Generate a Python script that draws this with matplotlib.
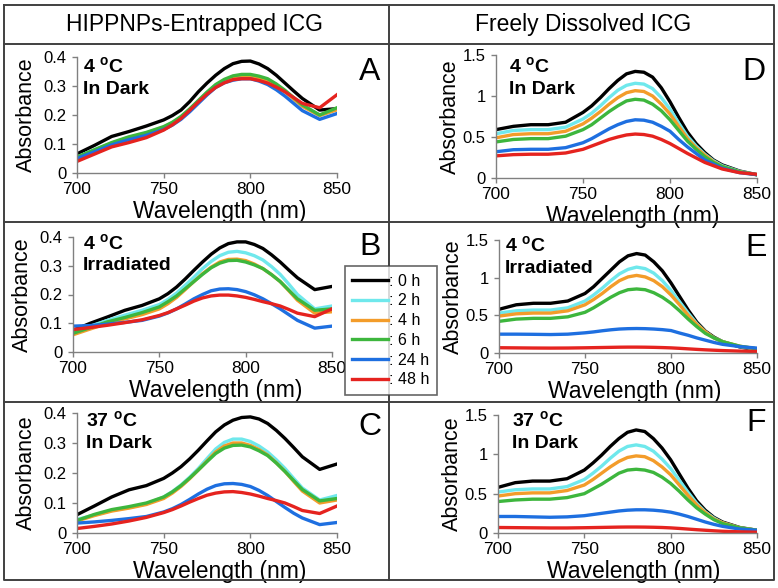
import matplotlib
matplotlib.use("Agg")
import matplotlib.pyplot as plt
from matplotlib.lines import Line2D
from matplotlib.ticker import FormatStrFormatter

plt.rcParams["font.family"] = ["Liberation Sans", "DejaVu Sans"]
plt.rcParams["mathtext.fontset"] = "custom"
plt.rcParams["mathtext.rm"] = "Liberation Sans"
plt.rcParams["mathtext.bf"] = "Liberation Sans:bold"

# wavelengths (nm)
wavelength = [700, 710, 720, 730, 740, 750, 755, 760, 765, 770, 775, 780, 785,
              790, 795, 800, 805, 810, 815, 820, 825, 830, 840, 850]
times = [": 0 h", ": 2 h", ": 4 h", ": 6 h", ": 24 h", ": 48 h"]
colors = ["#000000", "#6FE8EC", "#F39C2A", "#3DB63D", "#1E6FE0", "#E5231F"]

# HIPPNPs-entrapped ICG, 4 oC in dark (0, 2, 4, 6, 24, 48 h)
abs_a = [
    [0.066, 0.095, 0.126, 0.143, 0.162, 0.183, 0.198, 0.217, 0.246, 0.28, 0.31, 0.337, 0.36, 0.377, 0.385, 0.386, 0.376, 0.36, 0.337, 0.31, 0.283, 0.257, 0.217, 0.222],
    [0.055, 0.08, 0.103, 0.122, 0.138, 0.158, 0.173, 0.193, 0.219, 0.248, 0.277, 0.302, 0.32, 0.332, 0.337, 0.337, 0.331, 0.32, 0.303, 0.282, 0.257, 0.232, 0.2, 0.22],
    [0.053, 0.078, 0.1, 0.12, 0.136, 0.156, 0.171, 0.19, 0.216, 0.245, 0.274, 0.3, 0.318, 0.33, 0.334, 0.334, 0.328, 0.318, 0.301, 0.28, 0.255, 0.23, 0.198, 0.218],
    [0.055, 0.08, 0.105, 0.125, 0.14, 0.16, 0.175, 0.195, 0.221, 0.25, 0.279, 0.305, 0.323, 0.335, 0.34, 0.34, 0.334, 0.325, 0.307, 0.285, 0.26, 0.235, 0.2, 0.225],
    [0.05, 0.073, 0.097, 0.115, 0.13, 0.15, 0.165, 0.185, 0.211, 0.24, 0.269, 0.295, 0.311, 0.32, 0.325, 0.325, 0.317, 0.305, 0.287, 0.265, 0.24, 0.215, 0.185, 0.205],
    [0.04, 0.065, 0.09, 0.105, 0.122, 0.148, 0.166, 0.188, 0.216, 0.245, 0.272, 0.295, 0.311, 0.322, 0.325, 0.325, 0.319, 0.31, 0.296, 0.28, 0.26, 0.24, 0.225, 0.27],
]
# HIPPNPs-entrapped ICG, 4 oC irradiated
abs_b = [
    [0.075, 0.1, 0.122, 0.145, 0.162, 0.185, 0.203, 0.226, 0.254, 0.284, 0.313, 0.34, 0.362, 0.377, 0.383, 0.383, 0.374, 0.36, 0.338, 0.313, 0.285, 0.258, 0.217, 0.228],
    [0.07, 0.09, 0.11, 0.128, 0.145, 0.165, 0.183, 0.205, 0.232, 0.26, 0.29, 0.315, 0.335, 0.347, 0.35, 0.345, 0.335, 0.32, 0.297, 0.27, 0.236, 0.2, 0.15, 0.16],
    [0.06, 0.08, 0.1, 0.115, 0.13, 0.15, 0.168, 0.19, 0.217, 0.245, 0.272, 0.295, 0.313, 0.322, 0.323, 0.318, 0.306, 0.29, 0.269, 0.245, 0.213, 0.18, 0.135, 0.14],
    [0.065, 0.085, 0.105, 0.12, 0.137, 0.157, 0.175, 0.195, 0.22, 0.245, 0.27, 0.293, 0.309, 0.318, 0.319, 0.313, 0.303, 0.29, 0.269, 0.245, 0.215, 0.185, 0.145, 0.15],
    [0.09, 0.092, 0.097, 0.103, 0.11, 0.125, 0.136, 0.15, 0.167, 0.185, 0.2, 0.213, 0.219, 0.22, 0.217, 0.21, 0.199, 0.185, 0.168, 0.15, 0.13, 0.11, 0.083, 0.09],
    [0.078, 0.085, 0.093, 0.102, 0.112, 0.127, 0.137, 0.15, 0.163, 0.177, 0.188, 0.195, 0.198, 0.198, 0.195, 0.19, 0.183, 0.175, 0.168, 0.16, 0.148, 0.135, 0.123, 0.15],
]
# HIPPNPs-entrapped ICG, 37 oC in dark
abs_c = [
    [0.061, 0.09, 0.12, 0.144, 0.158, 0.182, 0.2, 0.221, 0.247, 0.276, 0.307, 0.337, 0.36, 0.376, 0.385, 0.387, 0.38, 0.365, 0.342, 0.315, 0.285, 0.254, 0.212, 0.23],
    [0.045, 0.06, 0.075, 0.085, 0.097, 0.12, 0.138, 0.16, 0.186, 0.215, 0.248, 0.28, 0.302, 0.313, 0.313, 0.305, 0.29, 0.27, 0.244, 0.215, 0.182, 0.15, 0.11, 0.125],
    [0.04, 0.058, 0.073, 0.083, 0.095, 0.115, 0.133, 0.155, 0.181, 0.21, 0.24, 0.27, 0.29, 0.3, 0.3, 0.292, 0.278, 0.26, 0.234, 0.205, 0.172, 0.14, 0.1, 0.11],
    [0.042, 0.062, 0.078, 0.088, 0.1, 0.12, 0.137, 0.158, 0.183, 0.21, 0.238, 0.265, 0.283, 0.292, 0.293, 0.287, 0.274, 0.258, 0.233, 0.205, 0.175, 0.145, 0.107, 0.115],
    [0.033, 0.037, 0.042, 0.048, 0.055, 0.07, 0.081, 0.095, 0.112, 0.13, 0.146, 0.158, 0.164, 0.165, 0.162, 0.155, 0.142, 0.125, 0.105, 0.085, 0.066, 0.05, 0.028, 0.035],
    [0.015, 0.022, 0.03, 0.04, 0.052, 0.068, 0.078, 0.09, 0.103, 0.115, 0.126, 0.133, 0.137, 0.138, 0.135, 0.13, 0.123, 0.115, 0.108, 0.1, 0.088, 0.075, 0.065, 0.09],
]
# freely dissolved ICG, 4 oC in dark
abs_d = [
    [0.59, 0.63, 0.65, 0.65, 0.68, 0.8, 0.88, 0.98, 1.09, 1.19, 1.27, 1.3, 1.29, 1.23, 1.1, 0.93, 0.74, 0.56, 0.42, 0.31, 0.22, 0.16, 0.085, 0.04],
    [0.54, 0.58, 0.59, 0.59, 0.62, 0.72, 0.79, 0.88, 0.98, 1.07, 1.13, 1.155, 1.145, 1.09, 0.98, 0.84, 0.67, 0.51, 0.39, 0.29, 0.21, 0.15, 0.08, 0.04],
    [0.49, 0.53, 0.54, 0.54, 0.57, 0.66, 0.73, 0.81, 0.9, 0.98, 1.04, 1.065, 1.055, 1.0, 0.9, 0.78, 0.63, 0.48, 0.37, 0.28, 0.2, 0.14, 0.075, 0.04],
    [0.44, 0.47, 0.48, 0.48, 0.51, 0.59, 0.65, 0.73, 0.81, 0.88, 0.94, 0.96, 0.95, 0.9, 0.82, 0.71, 0.58, 0.45, 0.35, 0.26, 0.19, 0.14, 0.075, 0.04],
    [0.32, 0.345, 0.35, 0.35, 0.37, 0.43, 0.48, 0.54, 0.6, 0.65, 0.69, 0.71, 0.705, 0.68, 0.63, 0.57, 0.47, 0.38, 0.3, 0.22, 0.17, 0.12, 0.065, 0.04],
    [0.27, 0.285, 0.29, 0.29, 0.305, 0.35, 0.39, 0.43, 0.47, 0.5, 0.525, 0.536, 0.53, 0.51, 0.47, 0.42, 0.36, 0.3, 0.245, 0.19, 0.15, 0.11, 0.065, 0.045],
]
# freely dissolved ICG, 4 oC irradiated
abs_e = [
    [0.58, 0.64, 0.66, 0.66, 0.69, 0.79, 0.88, 0.99, 1.1, 1.21, 1.29, 1.32, 1.3, 1.21, 1.09, 0.93, 0.75, 0.57, 0.41, 0.29, 0.21, 0.15, 0.08, 0.04],
    [0.53, 0.56, 0.57, 0.57, 0.6, 0.69, 0.77, 0.86, 0.96, 1.05, 1.11, 1.14, 1.12, 1.06, 0.96, 0.83, 0.68, 0.53, 0.39, 0.28, 0.2, 0.15, 0.085, 0.05],
    [0.49, 0.52, 0.53, 0.53, 0.56, 0.64, 0.71, 0.79, 0.88, 0.96, 1.01, 1.03, 1.01, 0.96, 0.88, 0.77, 0.64, 0.5, 0.38, 0.28, 0.2, 0.15, 0.09, 0.055],
    [0.42, 0.45, 0.46, 0.46, 0.48, 0.54, 0.6, 0.67, 0.74, 0.8, 0.84, 0.85, 0.84, 0.8, 0.74, 0.66, 0.56, 0.45, 0.35, 0.26, 0.2, 0.15, 0.09, 0.055],
    [0.25, 0.25, 0.248, 0.245, 0.25, 0.268, 0.28, 0.295, 0.308, 0.318, 0.323, 0.325, 0.323, 0.318, 0.31, 0.298, 0.265, 0.235, 0.2, 0.17, 0.14, 0.115, 0.085, 0.065],
    [0.07, 0.068, 0.066, 0.065, 0.066, 0.069, 0.071, 0.073, 0.075, 0.077, 0.078, 0.078, 0.077, 0.075, 0.072, 0.068, 0.062, 0.055, 0.048, 0.042, 0.037, 0.032, 0.025, 0.02],
]
# freely dissolved ICG, 37 oC in dark
abs_f = [
    [0.58, 0.64, 0.66, 0.66, 0.69, 0.8, 0.89, 0.99, 1.1, 1.2, 1.28, 1.31, 1.29, 1.2, 1.08, 0.93, 0.75, 0.57, 0.41, 0.29, 0.2, 0.14, 0.07, 0.035],
    [0.52, 0.55, 0.56, 0.56, 0.59, 0.68, 0.76, 0.85, 0.95, 1.04, 1.1, 1.12, 1.1, 1.04, 0.94, 0.82, 0.67, 0.52, 0.38, 0.27, 0.19, 0.13, 0.065, 0.035],
    [0.47, 0.5, 0.51, 0.51, 0.54, 0.61, 0.68, 0.76, 0.84, 0.91, 0.96, 0.98, 0.97, 0.92, 0.84, 0.74, 0.61, 0.48, 0.36, 0.26, 0.18, 0.13, 0.065, 0.035],
    [0.4, 0.42, 0.43, 0.43, 0.45, 0.5, 0.56, 0.62, 0.69, 0.76, 0.8, 0.81, 0.8, 0.77, 0.71, 0.63, 0.53, 0.42, 0.32, 0.24, 0.17, 0.12, 0.065, 0.035],
    [0.21, 0.21, 0.205, 0.2, 0.205, 0.22, 0.235, 0.25, 0.265, 0.28, 0.29, 0.295, 0.295, 0.29, 0.28, 0.265, 0.24, 0.21, 0.175, 0.14, 0.11, 0.085, 0.05, 0.035],
    [0.07, 0.068, 0.066, 0.064, 0.064, 0.067, 0.069, 0.071, 0.073, 0.075, 0.076, 0.076, 0.075, 0.073, 0.07, 0.065, 0.058, 0.05, 0.042, 0.035, 0.028, 0.022, 0.015, 0.01],
]

W, H = 778, 588
fig = plt.figure(figsize=(W / 100, H / 100), dpi=100)
fig.patch.set_facecolor("white")


def fx(x):
    return x / W


def fy(y):
    return 1 - y / H


# data, axes box in pixels (left, right, y of zero, y of top), y range, letter, condition
panels = [
    (abs_a, 77, 337, 173, 57, 0.4, [0, 0.1, 0.2, 0.3, 0.4], "A", "4", "In Dark", (83, 66), (370, 72)),
    (abs_b, 73, 332, 352, 237, 0.4, [0, 0.1, 0.2, 0.3, 0.4], "B", "4", "Irradiated", (83, 243), (370, 247)),
    (abs_c, 77, 337, 533, 413, 0.4, [0, 0.1, 0.2, 0.3, 0.4], "C", "37", "In Dark", (86, 420), (370, 427)),
    (abs_d, 496, 757, 178, 55, 1.5, [0, 0.5, 1, 1.5], "D", "4", "In Dark", (509, 66), (754, 72)),
    (abs_e, 499, 757, 353, 240, 1.5, [0, 0.5, 1, 1.5], "E", "4", "Irradiated", (505, 245), (756, 248)),
    (abs_f, 498, 757, 533, 415, 1.5, [0, 0.5, 1, 1.5], "F", "37", "In Dark", (512, 420), (756, 423)),
]

handles = None
for data, x0, x1, y0, y1, ymax, yticks, letter, temp, cond, tpos, lpos in panels:
    left_col = x0 < 389
    ax = fig.add_axes([fx(x0), fy(y0), (x1 - x0) / W, (y0 - y1) / H])
    lines = []
    for series, c in zip(data, colors):
        ln, = ax.plot(wavelength, series, color=c, lw=2.4)
        lines.append(ln)
    if handles is None:
        handles = lines
    ax.set_xlim(700, 850)
    ax.set_ylim(0, ymax)
    ax.set_xticks([700, 750, 800, 850])
    ax.set_yticks(yticks)
    ax.yaxis.set_major_formatter(FormatStrFormatter("%g"))
    for s in ["top", "right"]:
        ax.spines[s].set_visible(False)
    for s in ["left", "bottom"]:
        ax.spines[s].set_color("#808080")
        ax.spines[s].set_linewidth(1.0)
    ax.tick_params(direction="out", length=3.5, width=1, color="#808080")
    ax.tick_params(axis="x", labelsize=12.5, pad=3)
    ax.tick_params(axis="y", labelsize=12, pad=4)
    ax.set_xlabel("Wavelength (nm)", fontsize=16.5, labelpad=2)
    ax.xaxis.label.set_x(0.55 if left_col else 0.525)
    ax.set_ylabel("Absorbance", fontsize=15.5, labelpad=5 if left_col else 1)
    ax.patch.set_alpha(0)
    fig.text(fx(tpos[0]), fy(tpos[1]), temp + r" $\mathbf{^{o}}$C", fontsize=14,
             fontweight="bold", ha="left", va="center")
    fig.text(fx(tpos[0]), fy(tpos[1] + 23), cond, fontsize=14,
             fontweight="bold", ha="left", va="center")
    fig.text(fx(lpos[0]), fy(lpos[1]), letter, fontsize=23, ha="center", va="center")

# table borders
border = dict(color="#404040", lw=1.4, transform=fig.transFigure)
fig.add_artist(Line2D([fx(4), fx(774), fx(774), fx(4), fx(4)],
                      [fy(5), fy(5), fy(580), fy(580), fy(5)], **border))
for yy in [44, 222, 402]:
    fig.add_artist(Line2D([fx(4), fx(774)], [fy(yy), fy(yy)], **border))
fig.add_artist(Line2D([fx(389), fx(389)], [fy(5), fy(580)], **border))

fig.text(fx(194), fy(25), "HIPPNPs-Entrapped ICG", fontsize=16.5, ha="center", va="center")
fig.text(fx(583), fy(25), "Freely Dissolved ICG", fontsize=16.5, ha="center", va="center")

leg = fig.legend(handles, times, loc="center", bbox_to_anchor=(fx(391), fy(330.5)),
                 fontsize=11.5, frameon=True, fancybox=False, handlelength=2.2,
                 handletextpad=0.1, labelspacing=0.3, borderpad=0.45)
leg.get_frame().set_edgecolor("#404040")
leg.get_frame().set_linewidth(1.2)

fig.savefig("out.png", dpi=100, facecolor="white")
